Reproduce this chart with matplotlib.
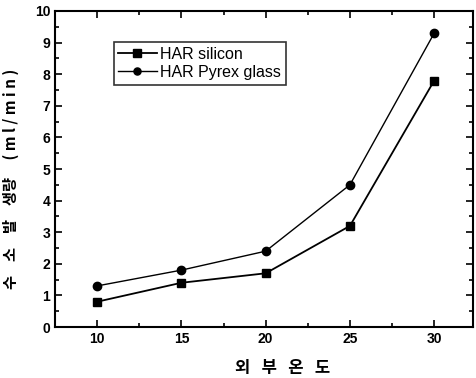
import matplotlib
matplotlib.use("Agg")
import matplotlib.pyplot as plt
from matplotlib.ticker import MultipleLocator

x = [10, 15, 20, 25, 30]
silicon = [0.8, 1.4, 1.7, 3.2, 7.8]
pyrex = [1.3, 1.8, 2.4, 4.5, 9.3]
labels = ["HAR silicon", "HAR Pyrex glass"]

fig = plt.figure(figsize=(4.77, 3.78), dpi=100)
ax = fig.add_axes([0.1153, 0.1349, 0.8763, 0.836])

ax.plot(x, silicon, color="black", marker="s", markersize=6, linewidth=1.3, label=labels[0])
ax.plot(x, pyrex, color="black", marker="o", markersize=6, linewidth=1.0, label=labels[1])

ax.set_xlim(7.5, 32.3)
ax.set_ylim(0, 10)
ax.xaxis.set_major_locator(MultipleLocator(5))
ax.xaxis.set_minor_locator(MultipleLocator(2.5))
ax.yaxis.set_major_locator(MultipleLocator(1))
ax.yaxis.set_minor_locator(MultipleLocator(0.5))
ax.tick_params(which="both", direction="in", top=True, right=True, width=1.2)
ax.tick_params(which="major", length=5)
ax.tick_params(which="minor", length=3)
for s in ax.spines.values():
    s.set_linewidth(1.5)
for lab in ax.get_xticklabels() + ax.get_yticklabels():
    lab.set_fontfamily("Liberation Sans")
    lab.set_fontweight("bold")
    lab.set_fontsize(10)

kfam = ["Noto Sans CJK KR", "DejaVu Sans"]
ax.set_xlabel("외   부   온   도", family=kfam, fontsize=12, fontweight="bold")
ax.xaxis.set_label_coords(0.545, -0.1)
ax.set_ylabel("수    소    발    생량     ( m l / m i n )", family=kfam,
              fontsize=11, fontweight="bold")
ax.yaxis.set_label_coords(-0.085, 0.47)

leg = ax.legend(loc="upper left", bbox_to_anchor=(0.14, 0.902), frameon=True, fancybox=False,
                edgecolor="black", prop={"family": "Liberation Sans", "size": 11.5},
                handlelength=2.4, borderpad=0.3, labelspacing=0.2, handletextpad=0.2,
                borderaxespad=0, markerscale=0.85)
leg.get_frame().set_linewidth(1.2)

fig.savefig("out.png", dpi=100)
